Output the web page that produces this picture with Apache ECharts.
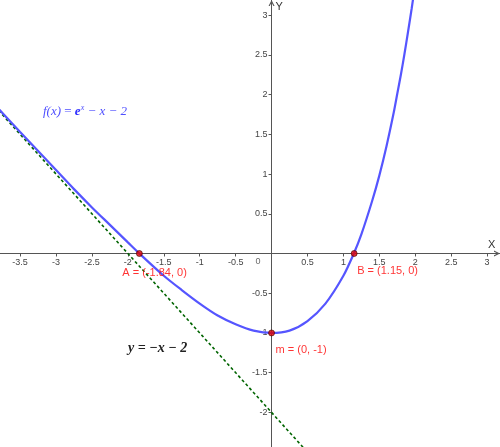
<!DOCTYPE html>
<html><head><meta charset="utf-8">
<script src="https://cdn.jsdelivr.net/npm/echarts@6/dist/echarts.min.js"></script>
<style>html,body{margin:0;padding:0;background:#fff}#c{width:500px;height:447px}</style>
</head><body><div id="c"></div>
<script>
// Axis ticks (labels)
const xTicks = [-3.5,-3,-2.5,-2,-1.5,-1,-0.5,0.5,1,1.5,2,2.5,3];
const yTicks = [-2,-1.5,-1,-0.5,0.5,1,1.5,2,2.5,3];
// f(x) = e^x - x - 2
const curveX = [-3.8,-3.5,-3.25,-3,-2.75,-2.5,-2.25,-2,-1.84,-1.5,-1.25,-1,-0.75,-0.5,-0.25,0,0.25,0.5,0.75,1,1.15,1.25,1.4,1.5,1.6,1.7,1.75,1.8,1.85,1.9,1.95,2.0];
const curveY = [1.82,1.53,1.29,1.05,0.81,0.58,0.36,0.14,0,-0.28,-0.46,-0.63,-0.78,-0.89,-0.97,-1,-0.97,-0.85,-0.63,-0.28,0.01,0.24,0.66,0.98,1.35,1.77,2.01,2.25,2.51,2.79,3.08,3.39];
// asymptote y = -x - 2
const lineX = [-3.8, 0.6];
const lineY = [1.8, -2.6];
// labelled points
const ptNames = ['A = (-1.84, 0)','B = (1.15, 0)','m = (0, -1)'];
const ptX = [-1.84, 1.15, 0];
const ptY = [0, 0, -1];

const W = 500, H = 447;
const xMin = -3.78, xMax = 3.18, yMin = -2.435, yMax = 3.19;
// place axes through the origin (offset from grid edges)
const xAxisOffset = -((0 - yMin) / (yMax - yMin)) * H;
const yAxisOffset = -((0 - xMin) / (xMax - xMin)) * W;
const labelOffsets = [[-17, 19], [3, 17], [4, 17]];
const chevron = 'path://M0,10 L5,0 L10,10 L8,10 L5,4 L2,10 Z';

const chart = echarts.init(document.getElementById('c'));
const axisCol = '#555';
chart.setOption({
  animation:false,
  grid:{left:0,right:0,top:0,bottom:0,containLabel:false,outerBoundsMode:'none'},
  xAxis:{type:'value',min:xMin,max:xMax,position:'bottom',offset:xAxisOffset,
    name:'X',nameLocation:'end',nameGap:-12,
    nameTextStyle:{color:'#333',fontSize:11,fontFamily:'Liberation Sans',verticalAlign:'bottom',padding:[0,0,3,0]},
    axisLine:{onZero:false,lineStyle:{color:axisCol,width:1},symbol:['none',chevron],symbolSize:[8,6],symbolOffset:[0,-3]},
    axisTick:{show:true,length:3,customValues:xTicks,lineStyle:{color:axisCol}},
    axisLabel:{customValues:xTicks,margin:5,fontSize:9,color:'#444',fontFamily:'Liberation Sans'},
    splitLine:{show:false}},
  yAxis:{type:'value',min:yMin,max:yMax,position:'left',offset:yAxisOffset,
    name:'Y',nameLocation:'end',nameGap:-12,
    nameTextStyle:{color:'#333',fontSize:11,fontFamily:'Liberation Sans',align:'left',padding:[0,0,0,4]},
    axisLine:{onZero:false,lineStyle:{color:axisCol,width:1},symbol:['none',chevron],symbolSize:[8,6],symbolOffset:[0,-3]},
    axisTick:{show:true,length:3,customValues:yTicks,lineStyle:{color:axisCol}},
    axisLabel:{customValues:yTicks,margin:4,fontSize:9,color:'#444',fontFamily:'Liberation Sans'},
    splitLine:{show:false}},
  series:[
    {type:'line',data:lineX.map((x,i)=>[x,lineY[i]]),showSymbol:false,
      lineStyle:{color:'#006400',width:1.6,type:[3,2.5]},z:2},
    {type:'line',data:curveX.map((x,i)=>[x,curveY[i]]),smooth:0.3,showSymbol:false,
      lineStyle:{color:'#5555ff',width:2.2},z:3},
    {type:'scatter',data:ptX.map((x,i)=>({value:[x,ptY[i]],name:ptNames[i],
        label:{offset:labelOffsets[i]}})),
      symbolSize:6,itemStyle:{color:'#e00000',borderColor:'#400000',borderWidth:0.8},z:5,
      label:{show:true,formatter:p=>p.name,color:'#ff0000',fontSize:11,fontFamily:'Liberation Sans',
        position:'inside',align:'left',verticalAlign:'middle'}},
    {type:'scatter',data:[[0,0]],symbolSize:0,silent:true,
      label:{show:true,formatter:'0',position:'inside',align:'right',verticalAlign:'middle',offset:[-11,8],fontSize:9,color:'#444',fontFamily:'Liberation Sans'}}
  ],
  graphic:[
    {type:'text',left:43,top:104,style:{text:'{a|f(x)}{b| = }{c|e}{s|x}{a| − x − 2}',
      rich:{a:{fontFamily:'Liberation Serif',fontStyle:'italic',fontSize:13,fill:'#5050ff'},
            b:{fontFamily:'Liberation Serif',fontSize:13,fill:'#5050ff'},
            c:{fontFamily:'Liberation Serif',fontStyle:'italic',fontWeight:'bold',fontSize:13,fill:'#3030ff'},
            s:{fontFamily:'Liberation Serif',fontStyle:'italic',fontSize:8,fill:'#5050ff',verticalAlign:'top',padding:[0,0,8,0]}}}},
    {type:'text',left:128,top:341,style:{text:'y = −x − 2',font:'italic bold 14px "Liberation Serif"',fill:'#222'}}
  ]
});
</script></body></html>
